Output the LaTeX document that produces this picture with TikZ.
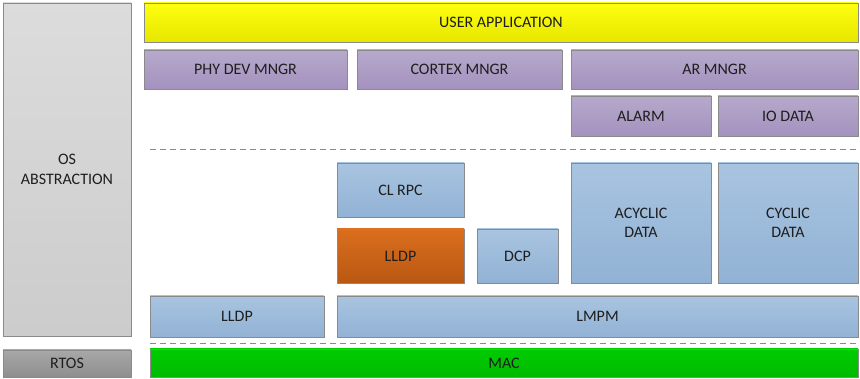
\documentclass[tikz,border=0pt]{standalone}
\usepackage{fontspec}
\setmainfont{Carlito}
\usepackage{tikz}
\usetikzlibrary{shadows}
\definecolor{lay-edge}{HTML}{8A8A8A}
\definecolor{lay-yellow-t}{HTML}{FFFF10}
\definecolor{lay-yellow-b}{HTML}{E6E600}
\definecolor{lay-purple-t}{HTML}{B7A9CC}
\definecolor{lay-purple-b}{HTML}{A392BE}
\definecolor{lay-blue-t}{HTML}{A8C4E0}
\definecolor{lay-blue-b}{HTML}{92B2D5}
\definecolor{lay-orange-t}{HTML}{DA6E1E}
\definecolor{lay-orange-b}{HTML}{B95812}
\definecolor{lay-green-t}{HTML}{00CC00}
\definecolor{lay-green-b}{HTML}{00BA00}
\definecolor{lay-gray-t}{HTML}{DCDCDC}
\definecolor{lay-gray-b}{HTML}{CCCCCC}
\definecolor{lay-dark-t}{HTML}{A8A8A8}
\definecolor{lay-dark-b}{HTML}{8E8E8E}
\definecolor{lay-text}{HTML}{1E1E1E}
\tikzset{
    layer/.style={draw=lay-edge, line width=0.8pt, inner sep=0pt, align=center,
                  text=lay-text, font=\fontsize{16}{19.5}\selectfont,
                  drop shadow={opacity=0.2, shadow xshift=1.2pt, shadow yshift=-1.2pt}},
    appbox/.style={layer, top color=lay-yellow-t, bottom color=lay-yellow-b},
    mngrbox/.style={layer, top color=lay-purple-t, bottom color=lay-purple-b},
    protobox/.style={layer, top color=lay-blue-t, bottom color=lay-blue-b},
    hotbox/.style={layer, top color=lay-orange-t, bottom color=lay-orange-b},
    macbox/.style={layer, top color=lay-green-t, bottom color=lay-green-b},
    osbox/.style={layer, top color=lay-gray-t, bottom color=lay-gray-b},
    rtosbox/.style={layer, top color=lay-dark-t, bottom color=lay-dark-b},
    sep/.style={draw=lay-edge, line width=0.9pt, dash pattern=on 6pt off 4pt}
}

\begin{document}
\begin{tikzpicture}[x=1pt, y=-1pt]

    \useasboundingbox (0,0) rectangle (860,379);

    % side column
    \node[osbox, minimum width=128pt, minimum height=333pt] (osab) at (67,169.5) {OS\\ABSTRACTION};
    \node[rtosbox, minimum width=128pt, minimum height=27pt] (rtos) at (67,363.5) {RTOS};

    % application and managers
    \node[appbox, minimum width=714pt, minimum height=39pt] (uapp) at (501,22.5) {USER APPLICATION};
    \begin{scope}[every node/.style={mngrbox, minimum height=39pt}]
        \node[minimum width=203pt] (phydev) at (245.5,69.5) {PHY DEV MNGR};
        \node[minimum width=205pt] (cortex) at (459.5,69.5) {CORTEX MNGR};
        \node[minimum width=287pt] (armngr) at (714.5,69.5) {AR MNGR};
        \node[minimum width=140pt, minimum height=40pt] (alarm) at (641,116) {ALARM};
        \node[minimum width=140pt, minimum height=40pt] (iodata) at (788,116) {IO DATA};
    \end{scope}

    % separators
    \coordinate (sepAw) at (150,149);
    \coordinate (sepAe) at (858,149);
    \coordinate (sepBw) at (150,343);
    \coordinate (sepBe) at (858,343);
    \draw[sep] (sepAw) -- (sepAe);
    \draw[sep] (sepBw) -- (sepBe);

    % protocol blocks
    \begin{scope}[every node/.style={protobox}]
        \node[minimum width=127pt, minimum height=54pt] (clrpc) at (400.5,190) {CL RPC};
        \node[minimum width=81pt, minimum height=54pt] (dcp) at (517.5,256) {DCP};
        \node[minimum width=140pt, minimum height=120pt] (acyc) at (641,223) {ACYCLIC\\DATA};
        \node[minimum width=140pt, minimum height=120pt] (cyc) at (788,223) {CYCLIC\\DATA};
        \node[minimum width=174pt, minimum height=41pt] (lldpb) at (237,316.5) {LLDP};
        \node[minimum width=521pt, minimum height=41pt] (lmpm) at (597.5,316.5) {LMPM};
    \end{scope}
    \node[hotbox, minimum width=127pt, minimum height=54pt] (lldpa) at (400.5,256) {LLDP};

    % link layer
    \node[macbox, minimum width=708pt, minimum height=28pt] (mac) at (504,363) {MAC};

\end{tikzpicture}
\end{document}
